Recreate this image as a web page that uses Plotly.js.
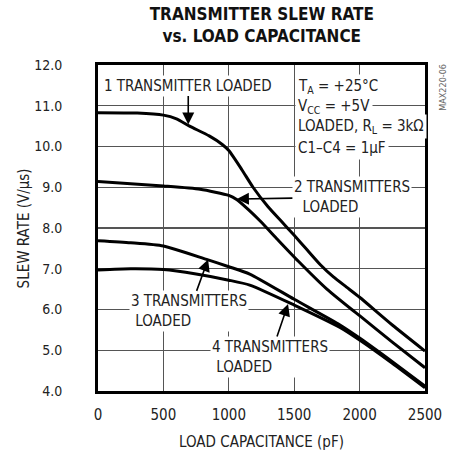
<!DOCTYPE html>
<html>
<head>
<meta charset="utf-8">
<script src="https://cdn.plot.ly/plotly-3.0.1.min.js"></script>
<style>html,body{margin:0;padding:0;background:#fff;}#chart{width:449px;height:455px;}</style>
</head>
<body>
<div id="chart"></div>
<script>
// Load capacitance (pF) sample points and slew rate (V/us) for each curve
const cap1 = [0, 300, 500, 600, 700, 850, 950, 1000, 1100, 1185, 1300, 1400, 1500, 1600, 1700, 1800, 1900, 2000, 2250, 2500];
const slew1 = [10.83, 10.82, 10.77, 10.68, 10.5, 10.26, 10.05, 9.9, 9.43, 9.0, 8.52, 8.17, 7.82, 7.46, 7.1, 6.8, 6.55, 6.3, 5.62, 4.98];

const cap2 = [0, 500, 780, 1000, 1060, 1150, 1240, 1375, 1530, 1750, 1940, 2000, 2250, 2500];
const slew2 = [9.14, 9.03, 8.95, 8.8, 8.7, 8.45, 8.17, 7.71, 7.19, 6.5, 6.0, 5.85, 5.2, 4.57];

const cap3 = [0, 250, 500, 830, 1000, 1160, 1500, 1850, 2000, 2250, 2500];
const slew3 = [7.69, 7.64, 7.56, 7.23, 7.05, 6.87, 6.25, 5.62, 5.3, 4.72, 4.12];

const cap4 = [0, 250, 500, 750, 1000, 1160, 1500, 1850, 2000, 2250, 2500];
const slew4 = [6.97, 7.0, 6.98, 6.87, 6.72, 6.6, 6.11, 5.56, 5.25, 4.68, 4.08];

const xTicks = [0, 500, 1000, 1500, 2000, 2500];
const yTicks = [4, 5, 6, 7, 8, 9, 10, 11, 12];

const FONT = '"DejaVu Sans Condensed", "Liberation Sans Narrow", sans-serif';
const TXT = '#222';

function curve(x, y) {
  return {x: x, y: y, type: 'scatter', mode: 'lines',
    line: {color: '#000', width: 3, shape: 'spline', smoothing: 0.6},
    hoverinfo: 'skip', showlegend: false};
}

const traces = [curve(cap1, slew1), curve(cap2, slew2), curve(cap3, slew3), curve(cap4, slew4)];

function label(text, x, y) {
  return {text: text, x: x, y: y, xref: 'x', yref: 'y', xanchor: 'left', yanchor: 'middle',
    showarrow: false, bgcolor: '#fff', borderpad: 2,
    font: {family: FONT, size: 15, color: TXT}};
}
function pointer(text, x, y, ax, ay) {
  return {text: text, align: 'left', x: x, y: y, xref: 'x', yref: 'y', showarrow: true,
    ax: ax, ay: ay, axref: 'pixel', ayref: 'pixel', bgcolor: '#fff', borderpad: 1,
    arrowhead: 2, arrowsize: 1.5, arrowwidth: 1.6, arrowcolor: '#000',
    font: {family: FONT, size: 15, color: TXT}};
}

const annotations = [
  pointer('1 TRANSMITTER LOADED', 690, 10.54, 0, -39),
  label('T<sub>A</sub> = +25°C', 1504, 11.48),
  label('V<sub>CC</sub> = +5V', 1504, 10.99),
  label('LOADED, R<sub>L</sub> = 3kΩ', 1504, 10.48),
  label('C1–C4 = 1μF', 1504, 9.96),
  pointer('2 TRANSMITTERS<br>&nbsp;&nbsp;LOADED', 1062, 8.71, 115, -2),
  pointer('3 TRANSMITTERS<br>&nbsp;LOADED', 842, 7.23, -19, 52),
  pointer('4 TRANSMITTERS<br>&nbsp;LOADED', 1453, 6.135, -18, 53),
  {text: 'MAX220-06', xref: 'paper', yref: 'paper', x: 1.078, y: 1.01, textangle: -90,
    showarrow: false, font: {family: FONT, size: 9, color: '#666'}},
  {text: 'SLEW RATE (V/μs)', xref: 'paper', yref: 'paper', x: -0.225, y: 0.5,
    xanchor: 'center', yanchor: 'middle', textangle: -90, showarrow: false,
    font: {family: FONT, size: 15, color: TXT}}
];

const layout = {
  width: 449, height: 455,
  margin: {l: 98, r: 23.5, t: 65, b: 64},
  paper_bgcolor: '#fff', plot_bgcolor: '#fff',
  font: {family: FONT, size: 15, color: TXT},
  title: {text: '<b>TRANSMITTER SLEW RATE<br>vs. LOAD CAPACITANCE</b>',
    x: 0.583, xanchor: 'center', y: 0.957, yanchor: 'middle',
    font: {family: FONT, size: 17, color: '#111'}},
  xaxis: {range: [0, 2500], tickvals: xTicks, ticktext: xTicks.map(String),
    showgrid: true, gridcolor: '#555', gridwidth: 1.3,
    showline: true, linecolor: '#000', linewidth: 3, mirror: true,
    ticks: 'outside', ticklen: 8, tickcolor: 'rgba(0,0,0,0)', zeroline: false,
    tickfont: {family: FONT, size: 15, color: TXT},
    title: {text: 'LOAD CAPACITANCE (pF)', standoff: 14, font: {family: FONT, size: 15, color: TXT}}},
  yaxis: {range: [4, 12], tickvals: yTicks, tickformat: '.1f',
    showgrid: true, gridcolor: '#555', gridwidth: 1.3,
    showline: true, linecolor: '#000', linewidth: 3, mirror: true,
    ticks: 'outside', ticklen: 30, tickcolor: 'rgba(0,0,0,0)', zeroline: false,
    tickfont: {family: FONT, size: 14, color: TXT}},
  annotations: annotations
};

Plotly.newPlot('chart', traces, layout, {staticPlot: true, displayModeBar: false});
</script>
</body>
</html>
